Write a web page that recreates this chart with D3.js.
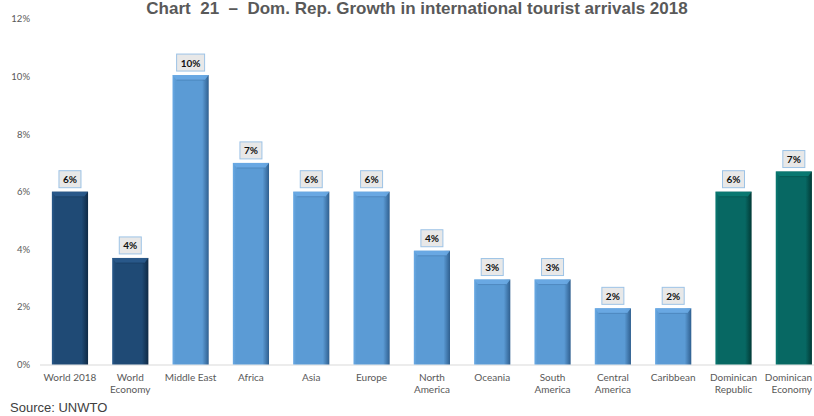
<!DOCTYPE html>
<html><head><meta charset="utf-8">
<script src="https://cdn.jsdelivr.net/npm/d3@7"></script>
<style>
body{margin:0;background:#fff;}
svg{display:block;}
</style></head>
<body>
<svg id="chart" width="814" height="416"></svg>
<script>
const categories = ["World 2018","World Economy","Middle East","Africa","Asia","Europe","North America","Oceania","South America","Central America","Caribbean","Dominican Republic","Dominican Economy"];
const categoryLines = [["World 2018"],["World","Economy"],["Middle East"],["Africa"],["Asia"],["Europe"],["North","America"],["Oceania"],["South","America"],["Central","America"],["Caribbean"],["Dominican","Republic"],["Dominican","Economy"]];
const values = [6.0, 3.7, 10.05, 7.0, 6.0, 6.0, 3.95, 2.95, 2.95, 1.95, 1.95, 6.0, 6.7];
const labels = ["6%","4%","10%","7%","6%","6%","4%","3%","3%","2%","2%","6%","7%"];
const groups = ["world","world","region","region","region","region","region","region","region","region","region","dr","dr"];
const yTicks = [0,2,4,6,8,10,12];
const title = "Chart  21  \u2013  Dom. Rep. Growth in international tourist arrivals 2018";
const source = "Source: UNWTO";

const colors = {world:["#2a5a8c","#1f4a75","#0f2a45"], region:["#6aaae4","#5b9bd5","#2f5f8f"], dr:["#0a7a72","#076863","#023a36"]};

const svg = d3.select("#chart");
const x = d3.scaleBand().domain(categories).range([39.8, 824]).paddingInner(0.4).paddingOuter(0.2);
const y = d3.scaleLinear().domain([0,12]).range([364.5, 18.9]);

const defs = svg.append("defs");
Object.entries(colors).forEach(([k,c])=>{
  const g = defs.append("linearGradient").attr("id","g-"+k).attr("x1",0).attr("x2",1).attr("y1",0).attr("y2",0);
  g.append("stop").attr("offset","0%").attr("stop-color",c[0]);
  g.append("stop").attr("offset","8%").attr("stop-color",c[1]);
  g.append("stop").attr("offset","82%").attr("stop-color",c[1]);
  g.append("stop").attr("offset","100%").attr("stop-color",c[2]);
});

// title
svg.append("text").attr("x",417).attr("y",14).attr("text-anchor","middle")
  .style("white-space","pre")
  .attr("font-family","Liberation Sans, Arial, sans-serif").attr("font-weight","bold")
  .attr("font-size",17).attr("fill","#595959").text(title);

// y axis labels
svg.append("g").selectAll("text").data(yTicks).join("text")
  .attr("x",30).attr("y",d=>y(d)+3.5).attr("text-anchor","end")
  .attr("font-family","Lato, sans-serif").attr("font-size",9.5)
  .attr("fill","#595959").text(d=>d+"%");

// baseline
svg.append("line").attr("x1",40).attr("x2",814).attr("y1",y(0)+0.5).attr("y2",y(0)+0.5)
  .attr("stroke","#d9d9d9").attr("stroke-width",1);

const bw = x.bandwidth();
const bars = svg.append("g").selectAll("g").data(categories).join("g");
bars.append("rect")
  .attr("x",d=>x(d)).attr("y",(d,i)=>y(values[i]))
  .attr("width",bw).attr("height",(d,i)=>y(0)-y(values[i]))
  .attr("fill",(d,i)=>`url(#g-${groups[i]})`);
// top bevel
bars.append("path")
  .attr("d",(d,i)=>{const x0=x(d), t=y(values[i]); return `M${x0},${t}L${x0+bw},${t}L${x0+bw-4},${t+5}L${x0+4},${t+5}Z`;})
  .attr("fill",(d,i)=>colors[groups[i]][0]).attr("opacity",0.9);
bars.append("line")
  .attr("x1",d=>x(d)+4).attr("x2",d=>x(d)+bw-4)
  .attr("y1",(d,i)=>y(values[i])+5).attr("y2",(d,i)=>y(values[i])+5)
  .attr("stroke",(d,i)=>colors[groups[i]][2]).attr("stroke-opacity",0.35);

// value label boxes
const lab = svg.append("g").selectAll("g").data(categories).join("g")
  .attr("transform",(d,i)=>`translate(${x(d)+bw/2},${y(values[i])-12})`);
lab.append("rect").attr("x",(d,i)=>labels[i].length>2?-14:-11).attr("y",-9)
  .attr("width",(d,i)=>labels[i].length>2?28:22).attr("height",17)
  .attr("fill","#e8e8e8").attr("stroke","#9dc3e6").attr("stroke-width",1);
lab.append("text").attr("y",3.5).attr("text-anchor","middle")
  .attr("font-family","Lato, sans-serif").attr("font-weight","bold").attr("font-size",10)
  .attr("fill","#111").text((d,i)=>labels[i]);

// category labels
const cl = svg.append("g").selectAll("text").data(categories).join("text")
  .attr("y",381).attr("text-anchor","middle")
  .attr("font-family","Lato, sans-serif").attr("font-size",10).attr("fill","#595959");
cl.each(function(d,i){
  const t=d3.select(this);
  categoryLines[i].forEach((s,j)=>{
    const sp = t.append("tspan").attr("x",x(d)+bw/2).attr("dy",j?12:0).text(s);
    const w = sp.node().getComputedTextLength();
    const cx = Math.min(x(d)+bw/2, 812 - w/2);
    sp.attr("x",cx);
  });
});

svg.append("text").attr("x",10).attr("y",412).attr("font-family","Liberation Sans, Arial, sans-serif")
  .attr("font-size",13).attr("fill","#404040").text(source);
</script>
</body></html>
